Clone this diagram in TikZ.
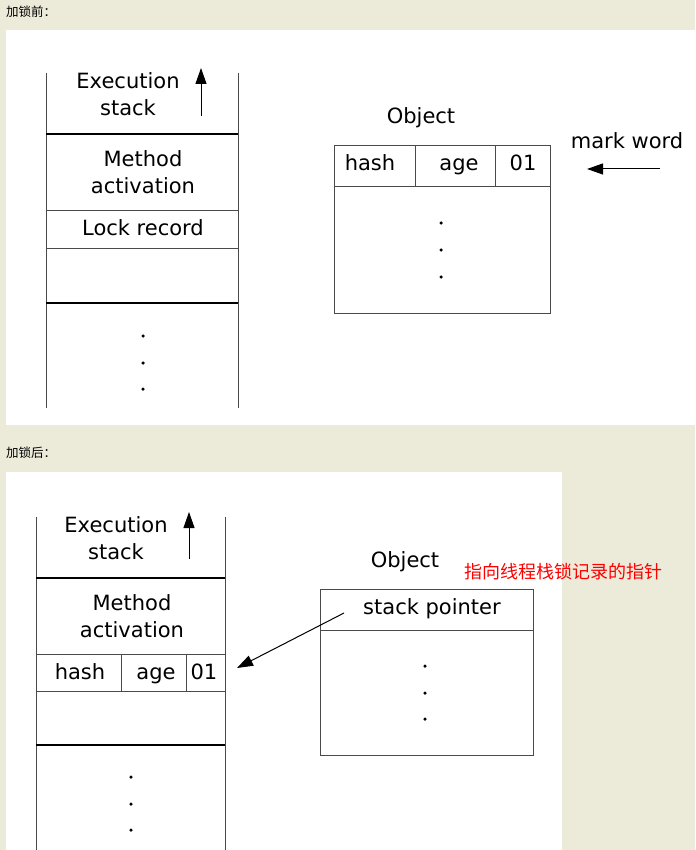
\documentclass[tikz,border=0pt]{standalone}
\usepackage{fontspec}
\setmainfont{DejaVu Sans}
\newfontfamily\cjk{Noto Sans CJK SC}
\usetikzlibrary{positioning,arrows.meta}
\definecolor{bgbeige}{HTML}{ECEBDA}
\definecolor{linegray}{HTML}{4A4A4A}
\begin{document}
\begin{tikzpicture}[x=1pt,y=-1pt,
		word/.style={font=\fontsize{21}{21}\selectfont, text height=15pt, text depth=0pt, inner sep=0pt},
		caption/.style={font=\cjk\fontsize{12.5}{12.5}\selectfont, anchor=west, inner sep=0pt},
		note/.style={font=\cjk\fontsize{18}{18}\selectfont, text=red, inner sep=0pt},
		thinline/.style={draw=linegray, line width=1pt},
		thickline/.style={draw=black, line width=2pt},
		ptr/.style={-{Triangle[length=16pt,width=11pt]}, line width=1pt},
		smalldot/.style={circle, fill=black, inner sep=0pt, minimum size=3.5pt},
		node distance=27pt
		]
		\useasboundingbox (0,0) rectangle (695,850);
		\fill[bgbeige] (0,0) rectangle (695,850);
		\fill[white] (6,30) rectangle (695,425);
		\fill[white] (6,472) rectangle (562,850);

		\node[caption](L0) at (6,11.5){加锁前：};
		\node[caption](L1) at (6,453){加锁后：};

		% before locking: stack
		\draw[thinline] (46,73) -- (46,408);
		\draw[thinline] (238,73) -- (238,408);
		\draw[thickline] (46,134) -- (238,134);
		\draw[thinline] (46,211) -- (238,211);
		\draw[thinline] (46,248) -- (238,248);
		\draw[thickline] (46,303) -- (238,303);
		\node[word](S0) at (128,81){Execution};
		\node[word, below of = S0](S1){stack};
		\coordinate (SA0) at (201,116);
		\coordinate (SA1) at (201,68);
		\draw[ptr] (SA0) -- (SA1);
		\node[word](S2) at (143,159){Method};
		\node[word, below of = S2](S3){activation};
		\node[word](S4) at (143,228){Lock record};
		\foreach \y [count=\i] in {336,363,389}
			\node[smalldot](SD\i) at (143,\y){};

		% before locking: object
		\node[word](O0) at (421,116){Object};
		\draw[thinline] (334,146) rectangle (550,313);
		\draw[thinline] (334,187) -- (550,187);
		\draw[thinline] (415,146) -- (415,187);
		\draw[thinline] (495,146) -- (495,187);
		\node[word](O1) at (370,163){hash};
		\node[word](O2) at (459,163){age};
		\node[word](O3) at (523,163){01};
		\foreach \y [count=\i] in {223,250,277}
			\node[smalldot](OD\i) at (441,\y){};
		\node[word](O4) at (627,141){mark word};
		\coordinate (OA0) at (660,169);
		\coordinate (OA1) at (587,169);
		\draw[ptr] (OA0) -- (OA1);

		% after locking: stack
		\draw[thinline] (36,517) -- (36,850);
		\draw[thinline] (225,517) -- (225,850);
		\draw[thickline] (36,578) -- (225,578);
		\draw[thinline] (36,654) -- (225,654);
		\draw[thinline] (36,691) -- (225,691);
		\draw[thickline] (36,745) -- (225,745);
		\draw[thinline] (121,654) -- (121,691);
		\draw[thinline] (186,654) -- (186,691);
		\node[word](T0) at (116,525){Execution};
		\node[word, below of = T0](T1){stack};
		\coordinate (TA0) at (189,559);
		\coordinate (TA1) at (189,512);
		\draw[ptr] (TA0) -- (TA1);
		\node[word](T2) at (132,603){Method};
		\node[word, below of = T2](T3){activation};
		\node[word](T4) at (80,672){hash};
		\node[word](T5) at (156,672){age};
		\node[word](T6) at (204,672){01};
		\foreach \y [count=\i] in {777,804,830}
			\node[smalldot](TD\i) at (131,\y){};

		% after locking: object
		\node[word](U0) at (405,560){Object};
		\node[note](U1) at (563.5,571.5){指向线程栈锁记录的指针};
		\draw[thinline] (320,589) rectangle (533,755);
		\draw[thinline] (320,630) -- (533,630);
		\node[word](U2) at (432,607){stack pointer};
		\foreach \y [count=\i] in {666,693,719}
			\node[smalldot](UD\i) at (425,\y){};
		\coordinate (UA0) at (344,613);
		\coordinate (UA1) at (237,668);
		\draw[ptr] (UA0) -- (UA1);
	\end{tikzpicture}
\end{document}
